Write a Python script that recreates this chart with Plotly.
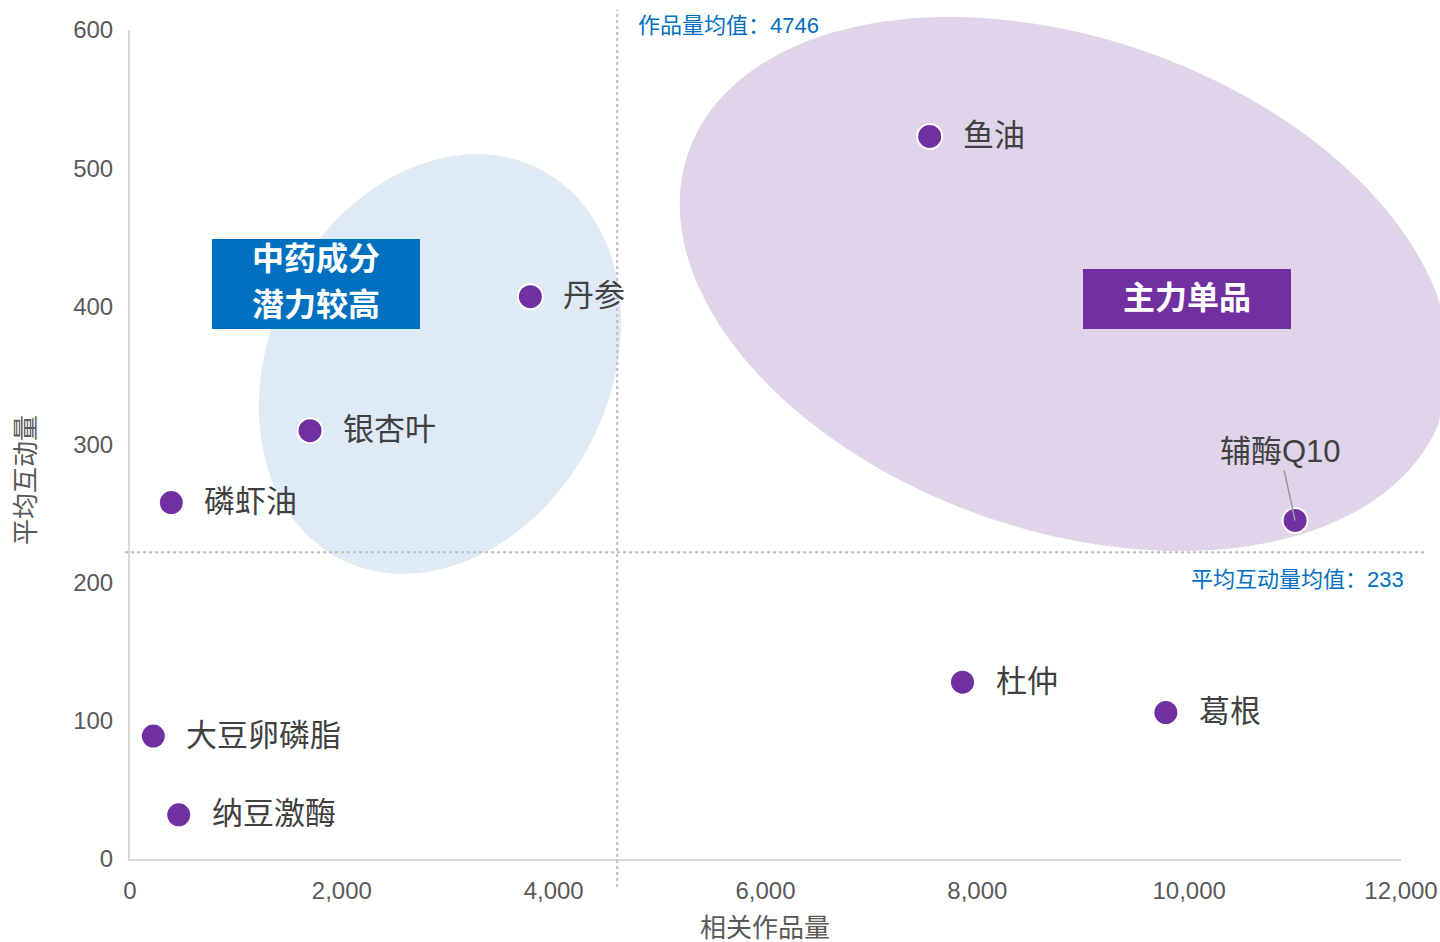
import numpy as np
import plotly.graph_objects as go

# ---------------- data ----------------
names = ["鱼油", "丹参", "银杏叶", "磷虾油", "辅酶Q10", "杜仲", "葛根", "大豆卵磷脂", "纳豆激酶"]
works = [7550, 3780, 1700, 390, 11000, 7860, 9780, 220, 460]          # 相关作品量
interact = [523, 407, 310, 258, 245, 128, 106, 89, 32]              # 平均互动量
mean_works_text = "作品量均值：4746"
mean_inter_text = "平均互动量均值：233"
mean_works_pos = 4600
mean_inter_pos = 222
x_ticks = [0, 2000, 4000, 6000, 8000, 10000, 12000]
y_ticks = [0, 100, 200, 300, 400, 500, 600]
x_range = [0, 12000]
y_range = [0, 600]
group_blue = ["中药成分", "潜力较高"]
group_purple = ["主力单品"]

# ---------------- layout geometry ----------------
W, H = 1440, 942
L, R, T, B = 130, 39, 30, 83
pw, ph = W - L - R, H - T - B


def px2paper(px, py):
    return (px - L) / pw, (H - B - py) / ph


def ellipse_path(cx, cy, a, b, ang_deg, n=200):
    t = np.linspace(0, 2 * np.pi, n)
    ang = np.deg2rad(ang_deg)
    xs = cx + a * np.cos(t) * np.cos(ang) - b * np.sin(t) * np.sin(ang)
    ys = cy + a * np.cos(t) * np.sin(ang) + b * np.sin(t) * np.cos(ang)
    xs = np.clip(xs, 0, W)   # keep inside the figure (clip at page edge)
    pts = [px2paper(x, y) for x, y in zip(xs, ys)]
    return "M " + " L ".join(f"{x:.5f},{y:.5f}" for x, y in pts) + " Z"


FONT = "Liberation Sans, Arial, Noto Sans CJK SC, sans-serif"
PURPLE = "#7030A0"
BLUE = "#0070C0"

fig = go.Figure()
fig.add_trace(go.Scatter(
    x=works, y=interact, mode="markers",
    marker=dict(size=25, color=PURPLE, line=dict(color="white", width=2)),
    hoverinfo="skip", showlegend=False, cliponaxis=False,
))

shapes = []
# ellipses (decorative)
shapes.append(dict(type="path", xref="paper", yref="paper", layer="below",
                   path=ellipse_path(440, 364, 219, 170, -63),
                   fillcolor="#deebf7", line=dict(width=0)))
shapes.append(dict(type="path", xref="paper", yref="paper", layer="below",
                   path=ellipse_path(1065, 284, 399, 246, 19.3),
                   fillcolor="#e0d3ea", line=dict(width=0)))
# mean lines
vx = (mean_works_pos - x_range[0]) / (x_range[1] - x_range[0])
hy = (mean_inter_pos - y_range[0]) / (y_range[1] - y_range[0])
shapes.append(dict(type="line", xref="paper", yref="paper", layer="above",
                   x0=vx, x1=vx, y0=px2paper(0, 887)[1], y1=px2paper(0, 10)[1],
                   line=dict(color="#bfbfbf", width=2, dash="dot")))
shapes.append(dict(type="line", xref="paper", yref="paper", layer="above",
                   x0=px2paper(125, 0)[0], x1=px2paper(1425, 0)[0], y0=hy, y1=hy,
                   line=dict(color="#bfbfbf", width=2, dash="dot")))
# group label boxes
bx0, by0 = px2paper(212, 329)
bx1, by1 = px2paper(420, 239)
shapes.append(dict(type="rect", xref="paper", yref="paper", layer="below",
                   x0=bx0, x1=bx1, y0=by0, y1=by1, fillcolor=BLUE, line=dict(width=0)))
px0, py0 = px2paper(1083, 329)
px1, py1 = px2paper(1291, 269)
shapes.append(dict(type="rect", xref="paper", yref="paper", layer="below",
                   x0=px0, x1=px1, y0=py0, y1=py1, fillcolor=PURPLE, line=dict(width=0)))

ann = []
for n, xv, yv in zip(names, works, interact):
    if n == "辅酶Q10":
        ann.append(dict(x=xv, y=yv, xref="x", yref="y", text=n, showarrow=True,
                        ax=-15, ay=-69, arrowhead=0, arrowwidth=1.5, arrowcolor="#9a9a9a",
                        font=dict(size=31, color="#404040", family=FONT)))
    else:
        ann.append(dict(x=xv, y=yv, xref="x", yref="y", text=n, showarrow=False,
                        xanchor="left", yanchor="middle", xshift=31, yshift=1,
                        font=dict(size=31, color="#404040", family=FONT)))

for i, t in enumerate(group_blue):
    xx, yy = px2paper(316, 259 + 46 * i)
    ann.append(dict(x=xx, y=yy, xref="paper", yref="paper", text=f"<b>{t}</b>", showarrow=False,
                    xanchor="center", yanchor="middle",
                    font=dict(size=32, color="white", family=FONT)))
xx, yy = px2paper(1187, 298)
ann.append(dict(x=xx, y=yy, xref="paper", yref="paper", text=f"<b>{group_purple[0]}</b>", showarrow=False,
                xanchor="center", yanchor="middle",
                font=dict(size=32, color="white", family=FONT)))

# mean labels
ann.append(dict(x=vx, y=px2paper(0, 26)[1], xref="paper", yref="paper", text=mean_works_text,
                showarrow=False, xanchor="left", yanchor="middle", xshift=19,
                font=dict(size=22, color=BLUE, family=FONT)))
ann.append(dict(x=px2paper(1406, 0)[0], y=hy, xref="paper", yref="paper", text=mean_inter_text,
                showarrow=False, xanchor="right", yanchor="middle", yshift=-27,
                font=dict(size=22, color=BLUE, family=FONT)))

# axis titles
xx, yy = px2paper(765, 928)
ann.append(dict(x=xx, y=yy, xref="paper", yref="paper", text="相关作品量", showarrow=False,
                xanchor="center", yanchor="middle", font=dict(size=26, color="#595959", family=FONT)))
xx, yy = px2paper(26, 480)
ann.append(dict(x=xx, y=yy, xref="paper", yref="paper", text="平均互动量", showarrow=False,
                textangle=-90, xanchor="center", yanchor="middle",
                font=dict(size=26, color="#595959", family=FONT)))

fig.update_layout(
    width=W, height=H, autosize=False, margin=dict(l=L, r=R, t=T, b=B, pad=0),
    paper_bgcolor="white", plot_bgcolor="rgba(0,0,0,0)",
    font=dict(family=FONT, color="#595959"),
    shapes=shapes, annotations=ann, showlegend=False,
    xaxis=dict(range=x_range, tickvals=x_ticks, tickformat=",", showgrid=False, zeroline=False,
               showline=True, linecolor="#d9d9d9", linewidth=2, ticks="", automargin=False,
               ticklabelstandoff=9, tickfont=dict(size=24, color="#595959")),
    yaxis=dict(range=y_range, tickvals=y_ticks, showgrid=False, zeroline=False,
               showline=True, linecolor="#d9d9d9", linewidth=2, ticks="", automargin=False,
               ticklabelstandoff=10, tickfont=dict(size=24, color="#595959")),
)

fig.write_html("out.html", config={"displayModeBar": False, "responsive": False},
               post_script="document.body.style.margin='0';document.body.style.overflow='hidden';")
